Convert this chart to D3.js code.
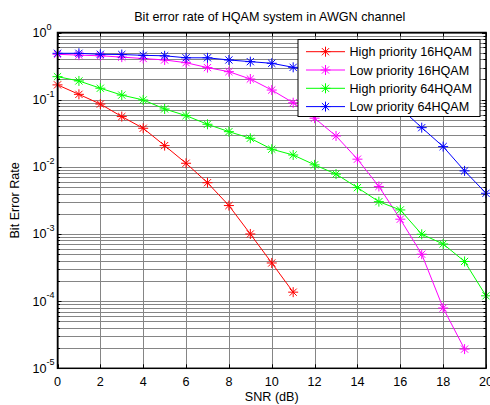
<!DOCTYPE html>
<html><head><meta charset="utf-8">
<script src="https://cdn.jsdelivr.net/npm/d3@7"></script>
<style>body{margin:0;background:#fff}svg{display:block}text{font-family:"Liberation Sans",Arial,sans-serif}</style>
</head><body><div id="c"></div>
<script>
const snr = d3.range(0, 21);
const seriesNames = ["High priority 16HQAM","Low priority 16HQAM","High priority 64HQAM","Low priority 64HQAM"];
const seriesColors = ["#ff0000","#ff00ff","#00ff00","#0000ff"];
const hp16 = [0.166,0.12,0.086,0.056,0.0375,0.0207,0.0113,0.0058,0.00265,0.001,0.00037,0.000136];
const lp16 = [0.474,0.46,0.45,0.43,0.41,0.39,0.355,0.30,0.261,0.203,0.139,0.090,0.053,0.0288,0.013,0.0051,0.00166,0.0005,0.000079,0.0000193];
const hp64 = [0.22,0.19,0.148,0.117,0.099,0.0727,0.0578,0.043,0.0334,0.0266,0.0183,0.015,0.0107,0.0078,0.0049,0.00303,0.00228,0.00099,0.00071,0.00039,0.00012];
const lp64 = [0.49,0.49,0.474,0.47,0.457,0.45,0.42,0.42,0.39,0.368,0.348,0.303,0.26,0.21,0.17,0.12,0.075,0.0383,0.02,0.0087,0.00404];
const xTicks = [0,2,4,6,8,10,12,14,16,18,20];
const yExps = [0,-1,-2,-3,-4,-5];
const title = "Bit error rate of HQAM system in AWGN channel";
const xLabel = "SNR (dB)";
const yLabel = "Bit Error Rate";

const W=490,H=405,FS=12.6;
const L=57.5,R=486,T=32.5,B=368.3;
const svg=d3.select("#c").append("svg").attr("width",W).attr("height",H);
const x=d3.scaleLinear().domain([0,20]).range([L,R]);
const y=d3.scaleLog().domain([1e-5,1]).range([B,T]);

// grid
const g=svg.append("g");
const minor=[];
for(let e=-5;e<0;e++) for(let k=1;k<10;k++) minor.push(k*Math.pow(10,e));
minor.push(1);
g.selectAll("line.hy").data(minor).join("line")
 .attr("x1",L).attr("x2",R).attr("y1",d=>Math.round(y(d))+0.5).attr("y2",d=>Math.round(y(d))+0.5)
 .attr("stroke","#858585").attr("stroke-width",1);
g.selectAll("line.vx").data(xTicks).join("line")
 .attr("y1",T).attr("y2",B).attr("x1",d=>Math.round(x(d))+0.5).attr("x2",d=>Math.round(x(d))+0.5)
 .attr("stroke","#858585").attr("stroke-width",1);

// ticks (inside) on all sides
const tk=svg.append("g").attr("stroke","#000").attr("stroke-width",1);
xTicks.forEach(v=>{const px=Math.round(x(v))+0.5;
 tk.append("line").attr("x1",px).attr("x2",px).attr("y1",B).attr("y2",B-4);
 tk.append("line").attr("x1",px).attr("x2",px).attr("y1",T).attr("y2",T+4);});
minor.forEach(v=>{const py=Math.round(y(v))+0.5; const len=(Math.abs(Math.log10(v)-Math.round(Math.log10(v)))<1e-9)?4:2.5;
 tk.append("line").attr("x1",L).attr("x2",L+len).attr("y1",py).attr("y2",py);
 tk.append("line").attr("x1",R).attr("x2",R-len).attr("y1",py).attr("y2",py);});

// series
const data=[hp16,lp16,hp64,lp64];
const line=d3.line().x((d,i)=>x(snr[i])).y(d=>y(d));
function star(sel,cx,cy,col,s){
 const r=s/2, d=r*0.72;
 const p=`M${cx-r},${cy}L${cx+r},${cy}M${cx},${cy-r}L${cx},${cy+r}M${cx-d},${cy-d}L${cx+d},${cy+d}M${cx-d},${cy+d}L${cx+d},${cy-d}`;
 sel.append("path").attr("d",p).attr("stroke",col).attr("stroke-width",1).attr("fill","none");
}
const sg=svg.append("g");
data.forEach((arr,k)=>{
 sg.append("path").datum(arr).attr("d",line).attr("fill","none").attr("stroke",seriesColors[k]).attr("stroke-width",1);
 arr.forEach((v,i)=>star(sg,x(snr[i]),y(v),seriesColors[k],10));
});

// box
svg.append("rect").attr("x",L).attr("y",T).attr("width",R-L).attr("height",B-T)
 .attr("fill","none").attr("stroke","#000").attr("stroke-width",1.5);

// x tick labels
svg.append("g").selectAll("text").data(xTicks).join("text")
 .attr("x",d=>x(d)).attr("y",385.5).attr("text-anchor","middle").attr("font-size",FS).text(d=>d);
// y tick labels
const yl=svg.append("g");
yExps.forEach(e=>{
 const py=y(Math.pow(10,e));
 yl.append("text").attr("x",46.5).attr("y",py+4.5).attr("text-anchor","end").attr("font-size",FS).text("10");
 yl.append("text").attr("x",46.5).attr("y",py-3).attr("font-size",9).text(e);
});
svg.append("text").attr("x",(L+R)/2-2).attr("y",21).attr("text-anchor","middle").attr("font-size",FS).text(title);
svg.append("text").attr("x",(L+R)/2).attr("y",401).attr("text-anchor","middle").attr("font-size",FS).text(xLabel);
svg.append("text").attr("transform",`translate(19,${(T+B)/2}) rotate(-90)`).attr("text-anchor","middle").attr("font-size",FS).text(yLabel);

// legend
const lg=svg.append("g");
lg.append("rect").attr("x",298).attr("y",39.5).attr("width",182).attr("height",77).attr("fill","#fff").attr("stroke","#000").attr("stroke-width",1);
seriesNames.forEach((n,k)=>{
 const py=51.7+k*18.3;
 lg.append("line").attr("x1",306).attr("x2",345).attr("y1",py).attr("y2",py).attr("stroke",seriesColors[k]).attr("stroke-width",1);
 star(lg,325.5,py,seriesColors[k],10);
 lg.append("text").attr("x",349.5).attr("y",py+4.5).attr("font-size",FS).text(n);
});
</script></body></html>
